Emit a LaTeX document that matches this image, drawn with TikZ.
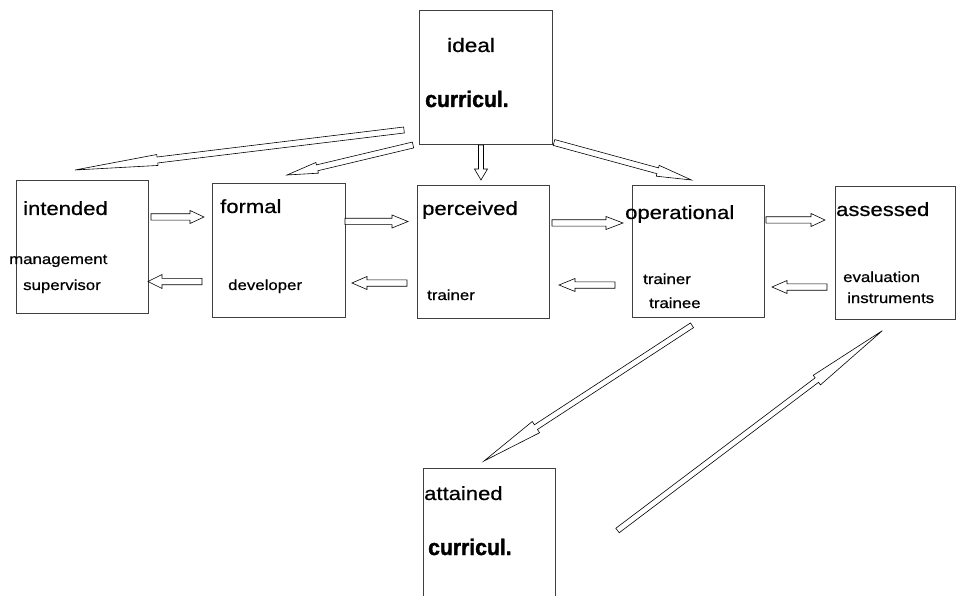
\documentclass[tikz,border=0pt]{standalone}
\usepackage{fontspec}
\setmainfont{Liberation Sans}[FakeStretch=1.16, FakeBold=0.6]
\newfontfamily\curfont{Liberation Sans}[FakeStretch=0.94, BoldFeatures={FakeBold=1.6}]
\usetikzlibrary{calc}

\tikzset{
  box/.style={draw=black!75, line width=0.8pt, rectangle, inner sep=0pt, anchor=north west},
  lbl/.style={anchor=base west, inner sep=0pt, font=\fontsize{19}{21}\selectfont},
  small/.style={anchor=base west, inner sep=0pt, font=\fontsize{14.5}{16}\selectfont},
  cur/.style={anchor=base west, inner sep=0pt, font=\curfont\bfseries\fontsize{22.5}{24}\selectfont},
  arrowbody/.style={draw=black, line width=0.6pt, fill=white, line join=miter},
}

% block arrow: #1 tail, #2 tip, #3 shaft half width, #4 head half width, #5 head length
\newcommand\blockarrow[5]{%
  \coordinate (hb) at ($(#2)!#5!(#1)$);
  \draw[arrowbody] ($(#1)!#3!90:(#2)$) -- ($(hb)!#3!90:(#2)$) -- ($(hb)!#4!90:(#2)$)
    -- (#2) -- ($(hb)!#4!-90:(#2)$) -- ($(hb)!#3!-90:(#2)$) -- ($(#1)!#3!-90:(#2)$) -- cycle;}

\begin{document}
\begin{tikzpicture}[x=1pt,y=-1pt]
\useasboundingbox (0,0) rectangle (956,596);
\clip (0,0) rectangle (956,596);
\fill[white] (0,0) rectangle (956,596);

% boxes
\node[box, minimum width=133pt, minimum height=134pt] (ideal) at (419,10) {};
\node[box, minimum width=132pt, minimum height=133pt] (intended) at (16,180) {};
\node[box, minimum width=133pt, minimum height=134pt] (formal) at (212,183) {};
\node[box, minimum width=132pt, minimum height=133pt] (perceived) at (417,185) {};
\node[box, minimum width=132pt, minimum height=132pt] (operational) at (632,185) {};
\node[box, minimum width=120pt, minimum height=133pt] (assessed) at (835,186) {};
\node[box, minimum width=132pt, minimum height=150pt] (attained) at (423,468) {};

% labels
\node[lbl, font=\fontsize{19.5}{21}\selectfont] (t-ideal) at (447,52) {ideal};
\node[cur] (t-cur1) at (425,107) {curricul.};
\node[lbl] (t-intended) at (23,215) {intended};
\node[small] (t-management) at (9,264) {management};
\node[small] (t-supervisor) at (23,290) {supervisor};
\node[lbl] (t-formal) at (220,213) {formal};
\node[small] (t-developer) at (228,290) {developer};
\node[lbl] (t-perceived) at (422,215) {perceived};
\node[small] (t-trainer1) at (427,300) {trainer};
\node[lbl] (t-operational) at (625,219) {operational};
\node[small] (t-trainer2) at (643,284) {trainer};
\node[small] (t-trainee) at (649,308) {trainee};
\node[lbl] (t-assessed) at (836,216) {assessed};
\node[small] (t-evaluation) at (843,282) {evaluation};
\node[small] (t-instruments) at (847,303) {instruments};
\node[lbl] (t-attained) at (424,500) {attained};
\node[cur] (t-cur2) at (428,555) {curricul.};

% arrow end points
\coordinate (id-in-s) at (404,130);   \coordinate (id-in-e) at (75,170);
\coordinate (id-fo-s) at (413,145);   \coordinate (id-fo-e) at (287,175);
\coordinate (id-pe-s) at (481,145);   \coordinate (id-pe-e) at (481,180);
\coordinate (id-op-s) at (554,142.5); \coordinate (id-op-e) at (691.5,180);
\coordinate (in-fo-s) at (151,217);   \coordinate (in-fo-e) at (204,217);
\coordinate (fo-in-s) at (202,281.5); \coordinate (fo-in-e) at (148,281.5);
\coordinate (fo-pe-s) at (345,221.5); \coordinate (fo-pe-e) at (408,221.5);
\coordinate (pe-fo-s) at (407,283);   \coordinate (pe-fo-e) at (352,283);
\coordinate (pe-op-s) at (552,223);   \coordinate (pe-op-e) at (623,223);
\coordinate (op-pe-s) at (615,285);   \coordinate (op-pe-e) at (559,285);
\coordinate (op-as-s) at (766,220);   \coordinate (op-as-e) at (825,220);
\coordinate (as-op-s) at (827,287);   \coordinate (as-op-e) at (772,287);
\coordinate (op-at-s) at (692,325.3); \coordinate (op-at-e) at (484,461);
\coordinate (at-as-s) at (617.5,530.5); \coordinate (at-as-e) at (882.3,330.7);

% arrows
\blockarrow{id-in-s}{id-in-e}{3pt}{5.5pt}{83pt}
\blockarrow{id-fo-s}{id-fo-e}{3pt}{5.5pt}{31pt}
\blockarrow{id-pe-s}{id-pe-e}{2.5pt}{6.5pt}{11pt}
\blockarrow{id-op-s}{id-op-e}{3pt}{5.6pt}{35pt}
\blockarrow{in-fo-s}{in-fo-e}{3.2pt}{6.5pt}{14pt}
\blockarrow{fo-in-s}{fo-in-e}{3.2pt}{7pt}{14pt}
\blockarrow{fo-pe-s}{fo-pe-e}{3.2pt}{6.5pt}{16pt}
\blockarrow{pe-fo-s}{pe-fo-e}{3.2pt}{6.5pt}{15pt}
\blockarrow{pe-op-s}{pe-op-e}{3.2pt}{6.5pt}{17pt}
\blockarrow{op-pe-s}{op-pe-e}{3.2pt}{6.5pt}{16pt}
\blockarrow{op-as-s}{op-as-e}{3.2pt}{6.5pt}{14pt}
\blockarrow{as-op-s}{as-op-e}{3.2pt}{6.5pt}{15pt}
\blockarrow{op-at-s}{op-at-e}{2.8pt}{6.7pt}{62pt}
\blockarrow{at-as-s}{at-as-e}{2.8pt}{6pt}{82pt}
\end{tikzpicture}
\end{document}
